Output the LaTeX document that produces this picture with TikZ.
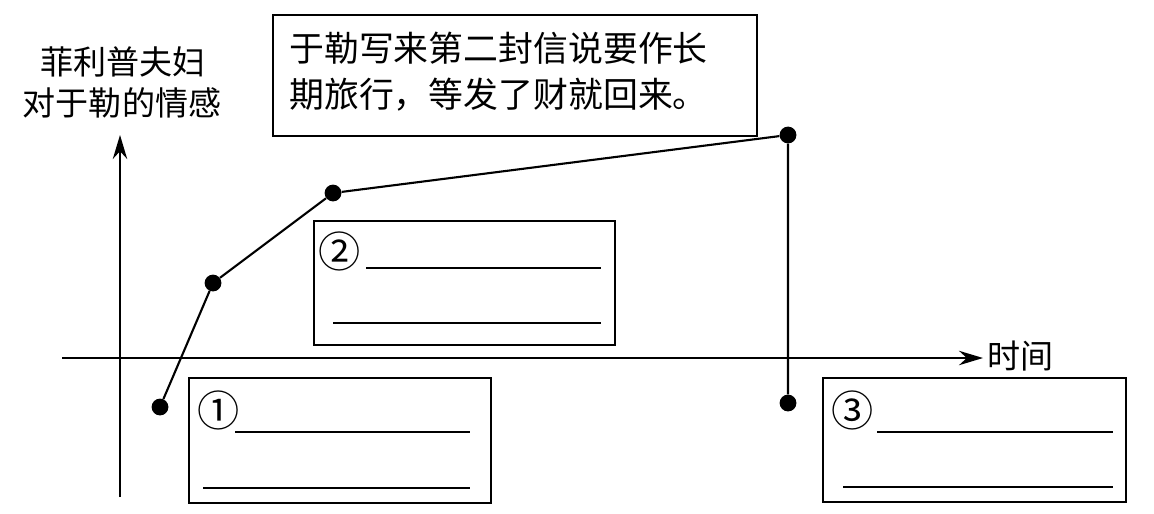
\documentclass[tikz,border=0pt]{standalone}
\usepackage{fontspec}
\setmainfont{Noto Sans CJK SC}
\newfontfamily\cjk{Noto Sans CJK SC}
\usetikzlibrary{arrows.meta}
\tikzset{
  ln/.style={line width=1.5pt, black},
  dot/.style={circle, fill=black, inner sep=0pt, minimum size=0.42cm},
  box/.style={draw, line width=1.4pt, rectangle, inner sep=0pt, anchor=north west},
  blank/.style={line width=1.4pt},
  cjktext/.style={font=\cjk\fontsize{23.5pt}{28pt}\selectfont, inner sep=0pt},
  boxtext/.style={font=\cjk\fontsize{24.8pt}{28pt}\selectfont, inner sep=0pt},
  num/.style={font=\cjk\fontsize{30pt}{32pt}\selectfont, inner sep=0pt},
  axis/.style={line width=1.4pt, -{Stealth[length=0.6cm,width=0.36cm]}}
}
\begin{document}
\begin{tikzpicture}[x=0.025cm,y=-0.025cm]
\useasboundingbox (0,0) rectangle (1154,513);
% axes
\coordinate (yb) at (120,497);
\coordinate (yt) at (120,135);
\coordinate (xl) at (62,358);
\coordinate (xr) at (983,358);
\draw[axis] (yb) -- (yt);
\draw[axis] (xl) -- (xr);
\node[cjktext, anchor=west] (tlab) at (987,356) {时间};
\node[cjktext] (ylab1) at (123,62) {菲利普夫妇};
\node[cjktext] (ylab2) at (122,103) {对于勒的情感};
% top box
\node[box, minimum width=484*0.025cm, minimum height=121*0.025cm] (tb) at (272,14) {};
\node[boxtext, anchor=west] (tt1) at (289,48) {于勒写来第二封信说要作长};
\node[boxtext, anchor=west] (tt2) at (289,95) {期旅行，等发了财就回来。};
% points
\node[dot] (p0) at (160,407) {};
\node[dot] (p1) at (213,283) {};
\node[dot] (p2) at (333,193) {};
\node[dot] (p3) at (788,135) {};
\node[dot] (p4) at (788,403) {};
\draw[ln] (p0) -- (p1) -- (p2) -- (p3) -- (p4);
% box 1
\node[box, minimum width=302*0.025cm, minimum height=125*0.025cm] (b1) at (188,377) {};
\node[num] (n1) at (219,410) {①};
\coordinate (b1a) at (235,432); \coordinate (b1b) at (470,432);
\coordinate (b1c) at (203,488); \coordinate (b1d) at (470,488);
\draw[blank] (b1a) -- (b1b); \draw[blank] (b1c) -- (b1d);
% box 2
\node[box, minimum width=301*0.025cm, minimum height=124*0.025cm] (b2) at (313,220) {};
\node[num] (n2) at (340,251) {②};
\coordinate (b2a) at (366,268); \coordinate (b2b) at (601,268);
\coordinate (b2c) at (333,323); \coordinate (b2d) at (601,323);
\draw[blank] (b2a) -- (b2b); \draw[blank] (b2c) -- (b2d);
% box 3
\node[box, minimum width=303*0.025cm, minimum height=124*0.025cm] (b3) at (822,377) {};
\node[num] (n3) at (853,410) {③};
\coordinate (b3a) at (877,432); \coordinate (b3b) at (1113,432);
\coordinate (b3c) at (843,487); \coordinate (b3d) at (1113,487);
\draw[blank] (b3a) -- (b3b); \draw[blank] (b3c) -- (b3d);
\end{tikzpicture}
\end{document}
